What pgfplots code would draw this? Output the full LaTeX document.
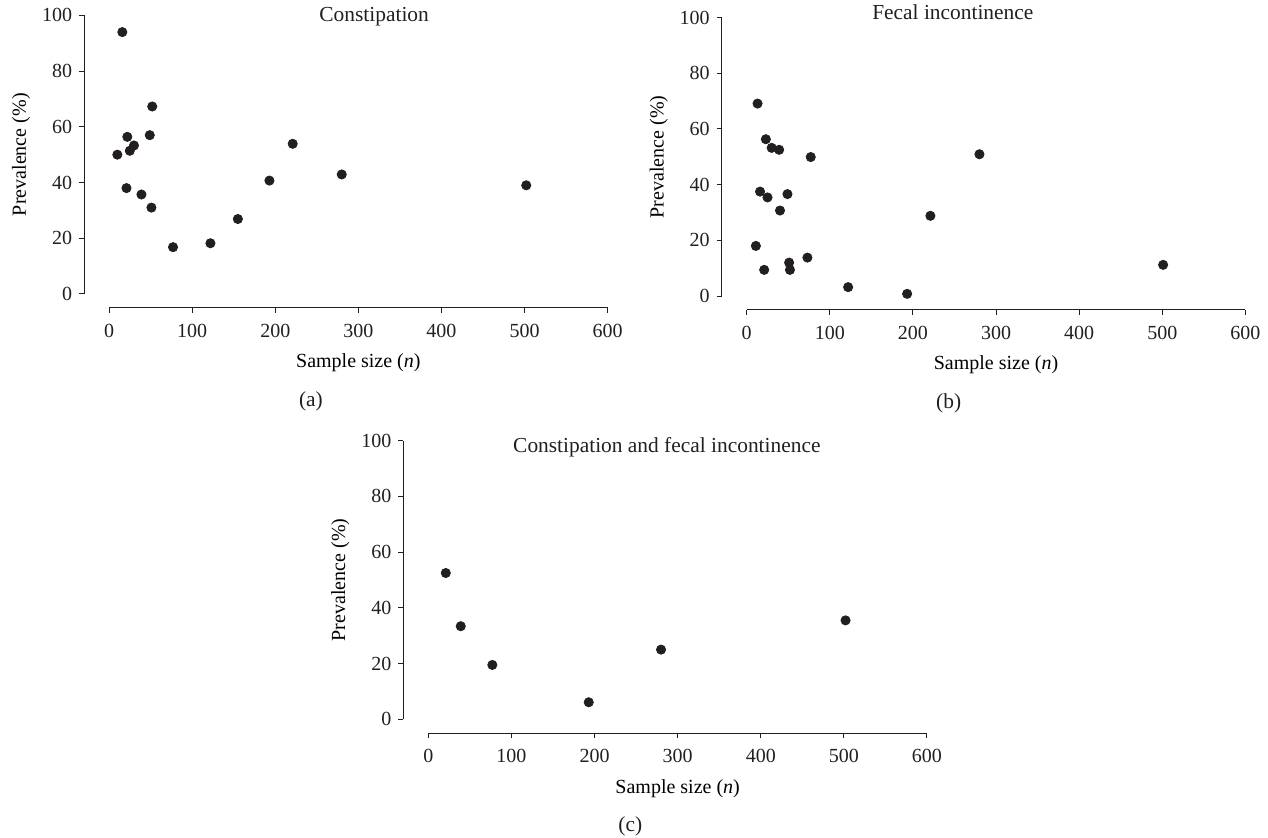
\documentclass[border=0pt]{standalone}
\usepackage{fontspec}
\setmainfont{Liberation Serif}
\usepackage{pgfplots}
\pgfplotsset{compat=1.18}
\definecolor{ink}{RGB}{35,31,32}

\pgfplotsset{
  prev/.style={
    scale only axis, width=261.8pt, height=146.25pt,
    xmin=-30, xmax=600, ymin=-5, ymax=100,
    axis x line*=bottom, axis y line*=left,
    axis line style={draw=none},
    xtick={0,100,...,600}, ytick={0,20,...,100},
    tick align=outside, major tick length=2.5pt,
    every tick/.style={ink, line width=0.5pt},
    /pgf/number format/assume math mode=true,
    ticklabel style={font=\fontsize{10}{12}\selectfont, text=ink},
    xticklabel style={yshift=-2pt},
    label style={font=\fontsize{10.7}{12}\selectfont, text=ink},
    every axis x label/.style={at={(axis cs:300,-5)}, anchor=center, yshift=-27.5pt},
    every axis y label/.style={at={(axis cs:-30,50)}, anchor=center, rotate=90, yshift=31.5pt},
    xlabel={Sample size (\textit{n})},
    ylabel={Prevalence (\%)},
    clip=false,
  },
  dots/.style={only marks, mark=*, mark size=2.3pt, mark options={fill=ink, draw=ink}},
}

\newcommand{\frameaxes}{%
  \draw[ink, line width=0.5pt] (axis cs:0,-5) -- (axis cs:600,-5);
  \draw[ink, line width=0.5pt] (axis cs:-30,0) -- (axis cs:-30,100);
}

\begin{document}
\begin{tikzpicture}
\useasboundingbox (0,0) rectangle (634pt,419pt);

% (a) constipation
\begin{axis}[prev, at={(42.05pt,265.05pt)}, anchor=south west]
\frameaxes
\addplot[dots] coordinates {
(16,94) (52,67.3) (22,56.4) (49,57) (30,53.3) (25,51.4) (10,50)
(21,38) (39,35.7) (51,31) (77,16.8) (122,18.2) (155,26.9)
(193,40.7) (221,53.9) (280,42.9) (502,39)
};
\node[font=\fontsize{10.7}{12}\selectfont, text=ink] at (axis cs:319,99.4) {Constipation};
\node[font=\fontsize{10.7}{12}\selectfont, text=ink] at (axis cs:243,-38.6) {(a)};
\end{axis}

% (b) fecal incontinence
\begin{axis}[prev, at={(360.9pt,264pt)}, anchor=south west]
\frameaxes
\addplot[dots] coordinates {
(13,69.1) (23,56.3) (30,53.2) (39,52.5) (77,49.9) (16,37.5) (25,35.4)
(49,36.6) (40,30.7) (11,18) (21,9.4) (51,12) (52,9.4) (73,13.8)
(122,3.2) (193,0.8) (221,28.8) (280,50.9) (501,11.2)
};
\node[font=\fontsize{10.7}{12}\selectfont, text=ink] at (axis cs:248,101.9) {Fecal incontinence};
\node[font=\fontsize{10.7}{12}\selectfont, text=ink] at (axis cs:243,-38.6) {(b)};
\end{axis}

% (c) both
\begin{axis}[prev, at={(201.7pt,52.4pt)}, anchor=south west]
\frameaxes
\addplot[dots] coordinates {
(21,52.5) (39,33.4) (77,19.5) (193,6.1) (280,25) (502,35.5)
};
\node[font=\fontsize{10.7}{12}\selectfont, text=ink] at (axis cs:287,97.7) {Constipation and fecal incontinence};
\node[font=\fontsize{10.7}{12}\selectfont, text=ink] at (axis cs:243,-38.6) {(c)};
\end{axis}
\end{tikzpicture}
\end{document}
